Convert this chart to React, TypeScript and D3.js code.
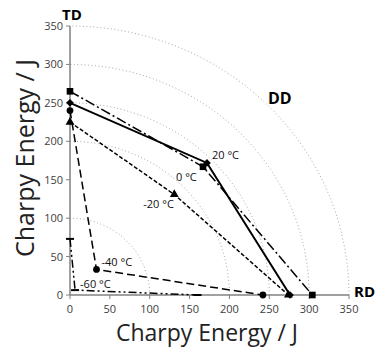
import * as d3 from "d3";

// temperatures and Charpy energy (J) along RD, DD (45°) and TD (90°)
const temps = ["20 °C", "0 °C", "-20 °C", "-40 °C", "-60 °C"];
const rdValues = [276, 304, 274, 242, 160];
const ddValues = [243, 236, 185, 47, 9];
const tdValues = [250, 265, 225, 240, 73];

const axisTicks = [0, 50, 100, 150, 200, 250, 300, 350];
const gridRadii = [100, 200, 250, 300, 350];

// styling per series (same order as temps)
const dashes = ["none", "10 3 2 3", "4 2", "8 4", "8 3 2 3 2 3"];
const widths = [2, 1.5, 1.5, 1.5, 1.5];
const markers = ["diamond", "square", "triangle", "circle", "dash"];
const labelOffsets: [number, number][] = [[5, -4], [-27, 14], [-31, 14], [5, -3], [5, -2]];

const W = 375;
const H = 352;
const FONT = "'Open Sans', sans-serif";

const x = d3.scaleLinear().domain([0, 350]).range([70, 349]);
const y = d3.scaleLinear().domain([0, 350]).range([295, 26]);

const polar = (r: number, deg: number): [number, number] => {
  const a = (deg * Math.PI) / 180;
  return [x(r * Math.cos(a)), y(r * Math.sin(a))];
};

const symbolFor: Record<string, d3.SymbolType> = {
  diamond: d3.symbolSquare,
  square: d3.symbolSquare,
  triangle: d3.symbolTriangle,
  circle: d3.symbolCircle,
};

function Marker({ kind, cx, cy }: { kind: string; cx: number; cy: number }) {
  if (kind === "dash") {
    return <line x1={cx - 4} x2={cx + 4} y1={cy} y2={cy} stroke="#000" strokeWidth={2} />;
  }
  const size = kind === "circle" ? 36 : kind === "triangle" ? 34 : kind === "diamond" ? 30 : 44;
  const path = d3.symbol().type(symbolFor[kind]).size(size)() as string;
  const rot = kind === "diamond" ? 45 : 0;
  return <path d={path} fill="#000" transform={`translate(${cx},${cy}) rotate(${rot})`} />;
}

export default function App() {
  const angles = d3.range(0, 90.5, 1);

  const series = temps.map((t, i) => {
    const pts: [number, number][] = [
      polar(tdValues[i], 90),
      polar(ddValues[i], 45),
      polar(rdValues[i], 0),
    ];
    return { t, i, pts };
  });

  const ddPos = polar(360, 45);

  return (
    <svg width={W} height={H} style={{ position: "absolute", left: 0, top: 0, background: "#fff" }} fontFamily={FONT}>
      {/* circular grid */}
      {gridRadii.map((r) => (
        <path
          key={r}
          d={
            d3.line<number>()
              .x((deg) => polar(r, deg)[0])
              .y((deg) => polar(r, deg)[1])(angles) as string
          }
          fill="none"
          stroke="#a8a8a8"
          strokeWidth={1}
          strokeDasharray="1 2.5"
        />
      ))}

      {/* axes */}
      <line x1={x(0)} x2={x(0)} y1={y(0)} y2={y(350)} stroke="#808080" strokeWidth={1.5} />
      <line x1={x(0)} x2={x(350)} y1={y(0)} y2={y(0)} stroke="#808080" strokeWidth={1.5} />
      {axisTicks.map((v) => (
        <g key={"t" + v}>
          <line x1={x(0) - 4} x2={x(0)} y1={y(v)} y2={y(v)} stroke="#808080" />
          <text x={x(0) - 7} y={y(v) + 4} textAnchor="end" fontSize={11} fill="#404040">{v}</text>
          <line x1={x(v)} x2={x(v)} y1={y(0)} y2={y(0) + 4} stroke="#808080" />
          <text x={x(v)} y={y(0) + 18} textAnchor="middle" fontSize={11} fill="#404040">{v}</text>
        </g>
      ))}

      {/* series */}
      {series.map(({ t, i, pts }) => (
        <g key={t}>
          <path
            d={d3.line()(pts) as string}
            fill="none"
            stroke="#000"
            strokeWidth={widths[i]}
            strokeDasharray={dashes[i]}
          />
          {pts.map((p, j) => (
            <Marker key={j} kind={markers[i]} cx={p[0]} cy={p[1]} />
          ))}
          <text
            x={pts[1][0] + labelOffsets[i][0]}
            y={pts[1][1] + labelOffsets[i][1]}
            fontSize={11}
            fill="#111"
          >
            {t}
          </text>
        </g>
      ))}

      {/* direction labels */}
      <text x={x(0) + 2} y={20} textAnchor="middle" fontSize={15} fontWeight="bold">TD</text>
      <text x={ddPos[0] - 5} y={ddPos[1] + 5} fontSize={16} fontWeight="bold">DD</text>
      <text x={x(350) + 5} y={296.5} fontSize={15} fontWeight="bold">RD</text>

      {/* axis titles */}
      <text x={207} y={341} textAnchor="middle" fontSize={23} fill="#222">
        Charpy Energy / J
      </text>
      <text
        transform={`translate(34, 158) rotate(-90)`}
        textAnchor="middle"
        fontSize={25}
        fill="#222"
      >
        Charpy Energy / J
      </text>
    </svg>
  );
}
